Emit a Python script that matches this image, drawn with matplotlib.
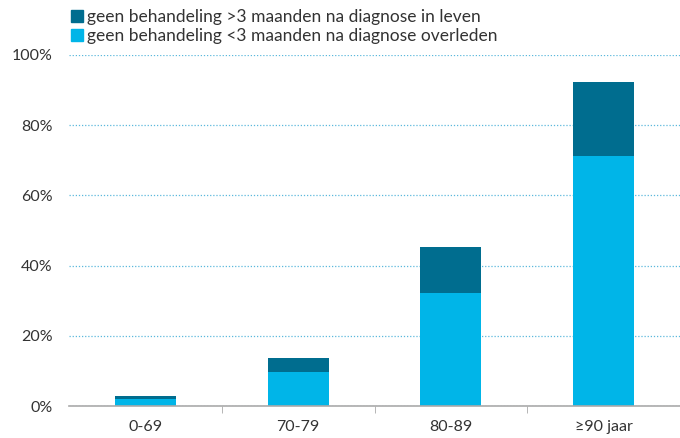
import matplotlib
matplotlib.use("Agg")
from matplotlib import pyplot as plt
from matplotlib.patches import Patch
import numpy as np

plt.rcParams['font.family'] = ['Lato', 'DejaVu Sans']

categories = ["0-69", "70-79", "80-89", "\u226590 jaar"]
overleden = [2.1, 9.7, 32.2, 71.2]      # geen behandeling <3 maanden na diagnose overleden
in_leven = [0.7, 3.9, 13.1, 21.1]       # geen behandeling >3 maanden na diagnose in leven

dark = "#006d8f"
light = "#00b5e8"

fig = plt.figure(figsize=(6.8, 4.38), dpi=100)
ax = fig.add_axes([69 / 680, (438 - 406) / 438, (680 - 69) / 680, (406 - 55) / 438])

x = np.arange(len(categories))
ax.bar(x, overleden, width=0.4, color=light, zorder=3)
ax.bar(x, in_leven, width=0.4, bottom=overleden, color=dark, zorder=3)

ax.set_xlim(-0.5, 3.5)
ax.set_ylim(0, 100)
ax.set_yticks([0, 20, 40, 60, 80, 100])
ax.set_yticklabels(["0%", "20%", "40%", "60%", "80%", "100%"])
ax.yaxis.grid(True, linestyle=(0, (1, 1.5)), color="#5bb8dc", linewidth=0.9, zorder=0)
ax.set_xticks(x)
ax.set_xticklabels(categories)
ax.set_xticks([0.5, 1.5, 2.5], minor=True)
ax.tick_params(axis='x', which='major', length=0, pad=10, labelsize=11.5, labelcolor="#333333")
ax.tick_params(axis='x', which='minor', length=5, color="#aaaaaa", direction='out')
ax.tick_params(axis='y', length=0, pad=12, labelsize=11.5, labelcolor="#333333")
ax.set_yticks([], minor=True)

for s in ['top', 'right', 'left']:
    ax.spines[s].set_visible(False)
ax.spines['bottom'].set_color("#aaaaaa")
ax.spines['bottom'].set_linewidth(1.2)
ax.spines['bottom'].set_zorder(4)

handles = [Patch(color=dark, label="geen behandeling >3 maanden na diagnose in leven"),
           Patch(color=light, label="geen behandeling <3 maanden na diagnose overleden")]
fig.legend(handles=handles, loc='upper left', bbox_to_anchor=(62 / 680, 1.0),
           frameon=False, fontsize=12.5, handlelength=0.7, handleheight=0.7,
           handletextpad=0.25, labelspacing=0.2, borderaxespad=0.1, labelcolor="#333333")

fig.savefig("out.png", dpi=100)
